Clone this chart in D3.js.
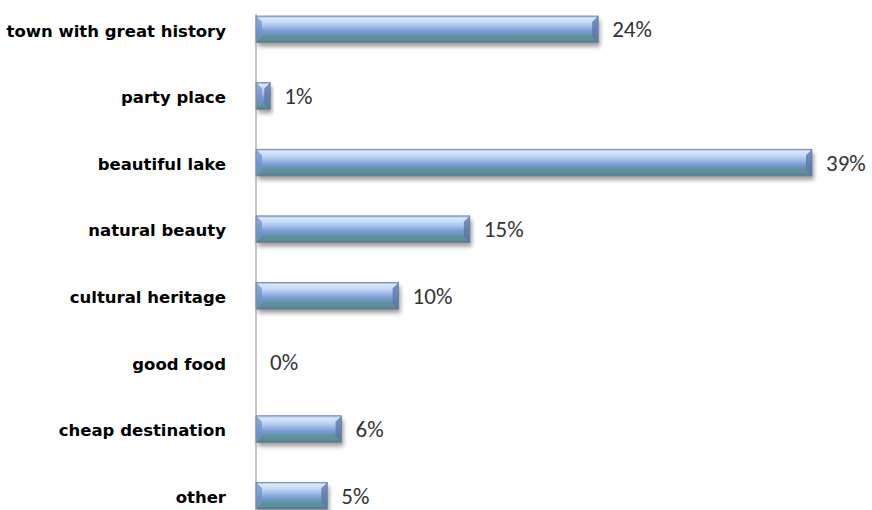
<!DOCTYPE html>
<html>
<head>
<meta charset="utf-8">
<script src="https://cdn.jsdelivr.net/npm/d3@7/dist/d3.min.js"></script>
<style>
  html, body { margin: 0; padding: 0; background: #fff; }
  svg { display: block; }
</style>
</head>
<body>
<svg id="chart" width="872" height="510"></svg>
<script>
const categories = [
  "town with great history",
  "party place",
  "beautiful lake",
  "natural beauty",
  "cultural heritage",
  "good food",
  "cheap destination",
  "other"
];
const values = [24, 1, 39, 15, 10, 0, 6, 5];
const valueLabels = ["24%", "1%", "39%", "15%", "10%", "0%", "6%", "5%"];

const svg = d3.select("#chart");
const W = 872, H = 510;
const axisX = 256;

const x = d3.scaleLinear().domain([0, 39]).range([axisX, 812]);
const y = d3.scaleBand().domain(categories).range([-4, 529]).paddingInner(0.6).paddingOuter(0.3);

const defs = svg.append("defs");
const grad = defs.append("linearGradient")
  .attr("id", "barFill").attr("x1", 0).attr("y1", 0).attr("x2", 0).attr("y2", 1);
[
  [0, "#8aa6d6"], [0.08, "#dbe8fa"], [0.25, "#c3d8f4"], [0.42, "#9db9e6"],
  [0.55, "#7e9fd6"], [0.66, "#6c97c4"], [0.75, "#5f939c"], [0.9, "#5d8f9a"],
  [1, "#56708f"]
].forEach(([o, c]) => grad.append("stop").attr("offset", o).attr("stop-color", c));

const shadow = defs.append("filter").attr("id", "shadow")
  .attr("x", "-10%").attr("y", "-30%").attr("width", "120%").attr("height", "180%");
shadow.append("feGaussianBlur").attr("stdDeviation", 2.2);

const bh = y.bandwidth();
const rows = svg.append("g").selectAll("g")
  .data(categories.map((c, i) => ({ c, v: values[i], label: valueLabels[i] })))
  .join("g");

// drop shadow under each bar
rows.filter(d => d.v > 0).append("rect")
  .attr("x", d => x(0) + 2)
  .attr("y", d => y(d.c) + 4)
  .attr("width", d => x(d.v) - x(0))
  .attr("height", bh)
  .attr("fill", "#5e5e5e")
  .attr("opacity", 0.6)
  .attr("filter", "url(#shadow)");

// bar body
rows.filter(d => d.v > 0).append("rect")
  .attr("x", x(0))
  .attr("y", d => y(d.c))
  .attr("width", d => x(d.v) - x(0))
  .attr("height", bh)
  .attr("fill", "url(#barFill)")
  .attr("stroke", "#6f86a8")
  .attr("stroke-width", 0.8);

// bevelled ends
const bev = Math.min(6, bh / 4);
rows.filter(d => d.v > 0).append("path")
  .attr("d", d => {
    const x0 = x(0), y0 = y(d.c), b = Math.min(bev, (x(d.v) - x0) / 2);
    return `M${x0},${y0} L${x0 + b},${y0 + b} L${x0 + b},${y0 + bh - b} L${x0},${y0 + bh} Z`;
  })
  .attr("fill", "#6d93cc").attr("opacity", 0.75);
rows.filter(d => d.v > 0).append("path")
  .attr("d", d => {
    const x1 = x(d.v), y0 = y(d.c), b = Math.min(bev, (x1 - x(0)) / 2);
    return `M${x1},${y0} L${x1 - b},${y0 + b} L${x1 - b},${y0 + bh - b} L${x1},${y0 + bh} Z`;
  })
  .attr("fill", "#5b78a6").attr("opacity", 0.8);

// value axis line
svg.append("line")
  .attr("x1", axisX).attr("x2", axisX)
  .attr("y1", 14).attr("y2", H)
  .attr("stroke", "#8c8c8c").attr("stroke-width", 1);

// category labels
const yAxis = d3.axisLeft(y).tickSize(0).tickPadding(0);
const ag = svg.append("g").attr("transform", "translate(226,2)").call(yAxis);
ag.select(".domain").remove();
ag.selectAll("text")
  .attr("font-family", "Verdana, 'DejaVu Sans', sans-serif")
  .attr("font-weight", "bold")
  .attr("font-size", 16.5)
  .attr("fill", "#000");

// value labels
rows.append("text")
  .attr("x", d => x(d.v) + 14)
  .attr("y", d => y(d.c) + bh / 2)
  .attr("dy", "0.35em")
  .attr("font-family", "Carlito, Calibri, 'Open Sans', sans-serif")
  .attr("font-size", 23)
  .attr("fill", "#333")
  .text(d => d.label);
</script>
</body>
</html>
